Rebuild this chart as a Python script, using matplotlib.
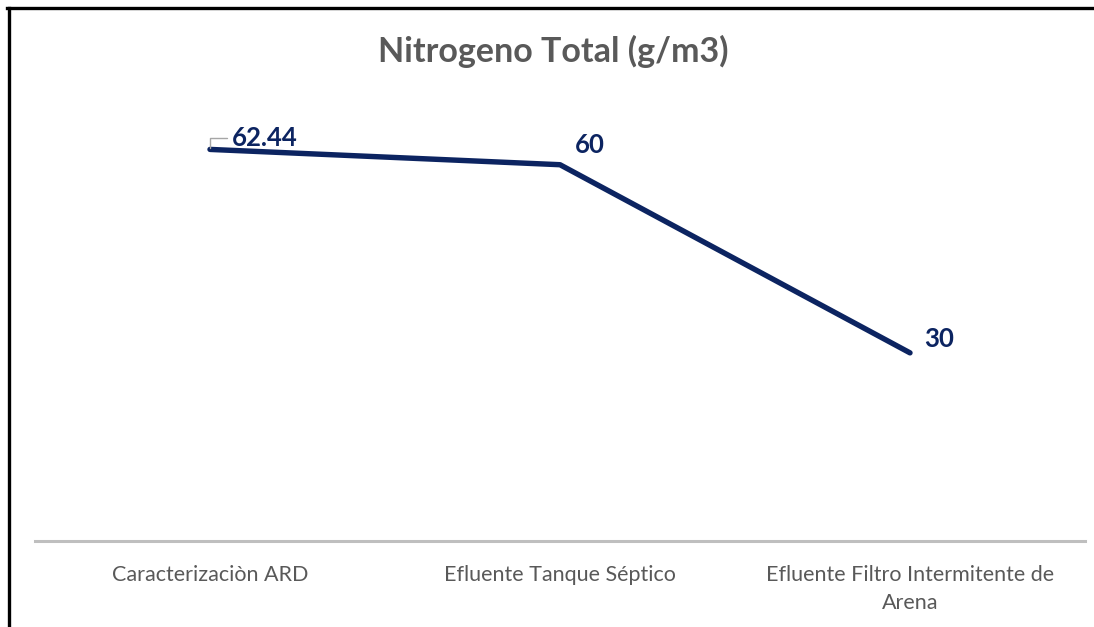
import matplotlib.pyplot as plt
from matplotlib.lines import Line2D

#------------DATA--------------------------
categorias = ["Caracterizaciòn ARD", "Efluente Tanque Séptico",
              "Efluente Filtro Intermitente de\nArena"]
nitrogeno = [62.44, 60, 30]
etiquetas = ["62.44", "60", "30"]

plt.rcParams["font.family"] = ["Lato", "DejaVu Sans"]

W, H = 1094, 627
fig = plt.figure(figsize=(W / 100, H / 100), dpi=100)
ax = fig.add_axes([35 / W, 1 - 541 / H, 1050 / W, (541 - 102) / H])

x = list(range(len(categorias)))
navy = "#0c2461"
ax.plot(x, nitrogeno, color=navy, linewidth=3.9, solid_capstyle="round",
        solid_joinstyle="round")

# data labels
offsets = [(16, 8), (11, 14), (10, 10)]
for i, (v, t) in enumerate(zip(nitrogeno, etiquetas)):
    if i == 0:
        ax.annotate(t, xy=(i, v), xytext=offsets[i], textcoords="offset points",
                    fontsize=18.5, fontweight="bold", color=navy, va="center", ha="left",
                    arrowprops=dict(arrowstyle="-", color="#a6a6a6", lw=1,
                                    shrinkA=2, shrinkB=1,
                                    connectionstyle="angle,angleA=0,angleB=90,rad=0"))
    else:
        ax.annotate(t, xy=(i, v), xytext=offsets[i], textcoords="offset points",
                    fontsize=18.5, fontweight="bold", color=navy, va="center", ha="left")

ax.set_xlim(-0.5, len(categorias) - 0.5)
ax.set_ylim(0, 70)
ax.set_xticks(x)
ax.set_xticklabels(categorias, fontsize=15.5, color="#595959", linespacing=1.5)
ax.tick_params(axis="x", length=0, pad=17)
ax.set_yticks([])
for s in ["top", "right", "left"]:
    ax.spines[s].set_visible(False)
ax.spines["bottom"].set_color("#bfbfbf")
ax.spines["bottom"].set_linewidth(2.2)

fig.text(553 / W, 1 - 51 / H, "Nitrogeno Total (g/m3)", fontsize=24.5,
         fontweight="bold", color="#595959", ha="center", va="center")

# frame border (left and top only visible)
fig.add_artist(Line2D([8.5 / W, 8.5 / W], [0, 1 - 7.5 / H], color="black", lw=2.4,
                      transform=fig.transFigure))
fig.add_artist(Line2D([7 / W, 1], [1 - 7.5 / H, 1 - 7.5 / H], color="black", lw=2.4,
                      transform=fig.transFigure))

fig.savefig("out.png", dpi=100)
